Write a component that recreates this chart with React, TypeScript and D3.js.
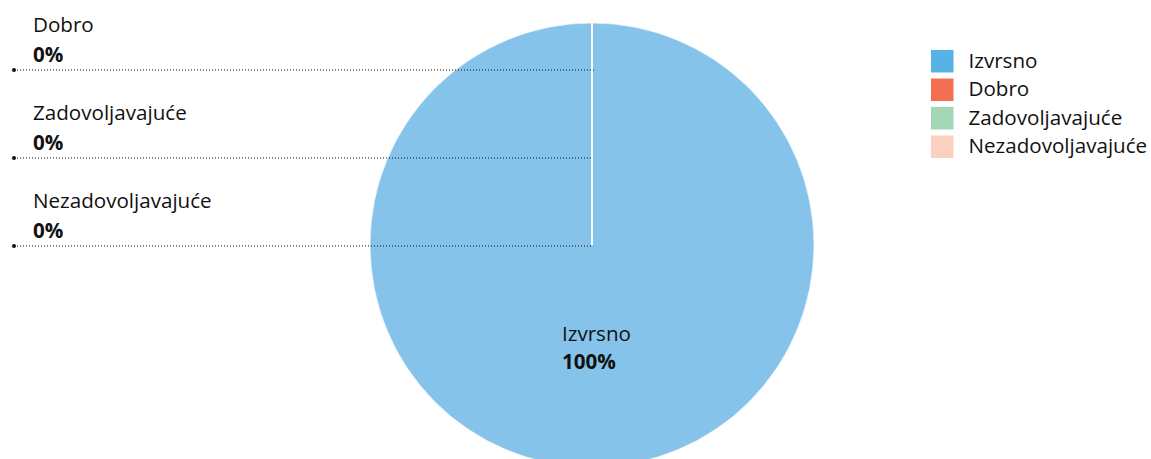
import React, { useEffect } from "react";
import * as d3 from "d3";

const categories = ["Izvrsno", "Dobro", "Zadovoljavajuće", "Nezadovoljavajuće"];
const values = [100, 0, 0, 0];
const legendColors = ["#55b3e6", "#f26f52", "#a3d6b4", "#fcd0c0"];
const sliceColors = ["#85c3eb", "#f26f52", "#a3d6b4", "#fcd0c0"];

const W = 1151;
const H = 459;
const FONT = "'Open Sans', 'Liberation Sans', sans-serif";
const FS = 20.6;

export default function App() {
  useEffect(() => {
    document.body.style.margin = "0";
  }, []);

  const cx = 592;
  const cy = 245;
  const r = 222;
  const data = categories.map((c, i) => ({ name: c, value: values[i], i }));
  const pie = d3.pie<any>().value((d) => d.value).sort(null);
  const arcs = pie(data);
  const arcGen = d3.arc<any>().innerRadius(0).outerRadius(r);
  const total = d3.sum(values);

  const zeroArcs = arcs.filter((a) => a.data.value === 0);
  const nonZero = arcs.filter((a) => a.data.value > 0);
  const labelY = d3.scaleLinear().domain([0, 1]).range([70, 158]);

  return (
    <svg width={W} height={H} style={{ display: "block", fontFamily: FONT }}>
      <g transform={`translate(${cx},${cy})`}>
        {nonZero.map((a) => (
          <path key={a.data.name} d={arcGen(a) as string} fill={sliceColors[a.data.i]} stroke="#fff" strokeWidth={1} strokeOpacity={0.6} />
        ))}
        {arcs.map((a) => {
          const ang = a.startAngle;
          return (
            <line
              key={"r" + a.data.name}
              x1={0}
              y1={0}
              x2={Math.sin(ang) * r}
              y2={-Math.cos(ang) * r}
              stroke="#fff"
              strokeWidth={1.5}
            />
          );
        })}
        {nonZero.map((a) => {
          const [x, y] = arcGen.centroid(a);
          return (
            <text key={"l" + a.data.name} fontSize={FS} fill="#111">
              <tspan x={x - 30} y={y - 15}>{a.data.name}</tspan>
              <tspan x={x - 30} y={y + 13} fontWeight="bold">
                {Math.round((a.data.value / total) * 100)}%
              </tspan>
            </text>
          );
        })}
      </g>
      {zeroArcs.map((a, k) => {
        const y = labelY(k);
        return (
          <g key={"z" + a.data.name}>
            <line x1={14} x2={k === 0 ? cx + 2 : cx} y1={y} y2={y} stroke="#111" strokeWidth={1} strokeDasharray="1,2" />
            <circle cx={14} cy={y} r={2} fill="#111" />
            <text x={33} y={y - 38.5} fontSize={FS} fill="#111">{a.data.name}</text>
            <text x={33} y={y - 8.5} fontSize={FS} fontWeight="bold" fill="#111">
              {Math.round((a.data.value / (total || 1)) * 100)}%
            </text>
          </g>
        );
      })}
      <g transform="translate(931,50)">
        {categories.map((c, i) => (
          <g key={c} transform={`translate(0,${i * 28.5})`}>
            <rect width={22.5} height={22.5} fill={legendColors[i]} />
            <text x={37.5} y={17.5} fontSize={FS} fill="#111">{c}</text>
          </g>
        ))}
      </g>
    </svg>
  );
}
